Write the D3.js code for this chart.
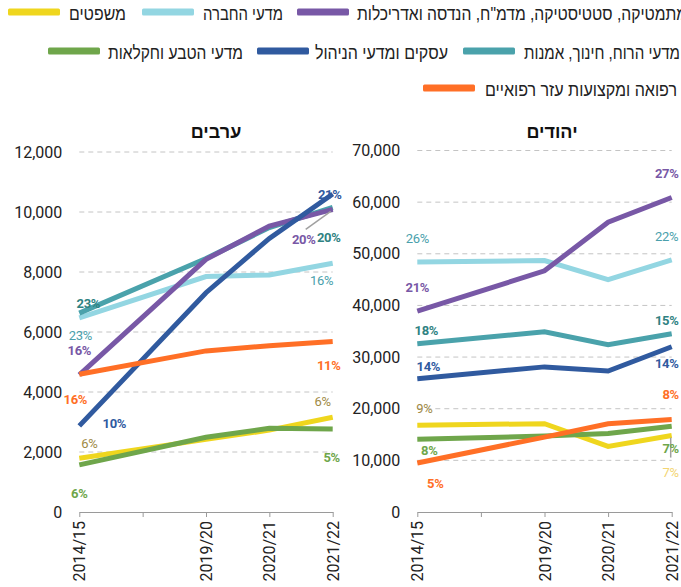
<!DOCTYPE html>
<html>
<head>
<meta charset="utf-8">
<script src="https://cdn.jsdelivr.net/npm/d3@7"></script>
<style>
  body { margin: 0; background: #fff; }
  svg { display: block; }
  .tick text { font-family: Roboto, "Liberation Sans", sans-serif; font-size: 16px; fill: #222; }
</style>
</head>
<body>
<div id="chart"></div>
<script>
var svgWidth = 681;
var svgHeight = 587;

// Categories on the x axis (the blank one is the unlabeled tick between 2014/15 and 2019/20).
var xCategories = ["2014/15", "", "2019/20", "2020/21", "2021/22"];
var years = ["2014/15", "2019/20", "2020/21", "2021/22"];

// Fields of study, in drawing order (later ones on top).
var fields = ["social", "humanities", "math", "business", "law", "nature", "medicine"];
var fieldNames = {
    social: "מדעי החברה",
    humanities: "מדעי הרוח, חינוך, אמנות",
    math: "מתמטיקה, סטטיסטיקה, מדמ\"ח, הנדסה ואדריכלות",
    business: "עסקים ומדעי הניהול",
    law: "משפטים",
    nature: "מדעי הטבע וחקלאות",
    medicine: "רפואה ומקצועות עזר רפואיים"
};

// Students — Arabs.
var arabSocial     = [6470, 7850, 7900, 8290];
var arabHumanities = [6630, 8450, 9480, 10150];
var arabMath       = [4570, 8420, 9530, 10090];
var arabBusiness   = [2870, 7310, 9120, 10600];
var arabLaw        = [1790, 2420, 2730, 3160];
var arabNature     = [1570, 2490, 2790, 2770];
var arabMedicine   = [4590, 5370, 5545, 5680];

// Students — Jews.
var jewSocial     = [48400, 48700, 45000, 48800];
var jewHumanities = [32600, 34900, 32400, 34500];
var jewMath       = [38900, 46700, 56100, 60900];
var jewBusiness   = [25800, 28100, 27300, 32000];
var jewLaw        = [16800, 17100, 12700, 14800];
var jewNature     = [14100, 14700, 15200, 16600];
var jewMedicine   = [9500, 14500, 17100, 17900];

// Share labels at first / last year.
var arabStartLabels = {social: "23%", humanities: "23%", math: "16%", business: "10%", law: "6%", nature: "6%", medicine: "16%"};
var arabEndLabels   = {social: "16%", humanities: "20%", math: "20%", business: "21%", law: "6%", nature: "5%", medicine: "11%"};
var jewStartLabels  = {social: "26%", humanities: "18%", math: "21%", business: "14%", law: "9%", nature: "8%", medicine: "5%"};
var jewEndLabels    = {social: "22%", humanities: "15%", math: "27%", business: "14%", law: "7%", nature: "7%", medicine: "8%"};

var arabTicks = [0, 2000, 4000, 6000, 8000, 10000, 12000];
var jewTicks = [0, 10000, 20000, 30000, 40000, 50000, 60000, 70000];

var colors = {
    social: "#93d6e2",
    humanities: "#4aa2ab",
    math: "#7858a6",
    business: "#305a9f",
    law: "#efd61e",
    nature: "#6fa64b",
    medicine: "#ff6f26"
};

// label styling per field: [color, bold]
var labelStyle = {
    social: ["#4a9fac", false],
    humanities: ["#2f8282", true],
    math: ["#7858a6", true],
    business: ["#305a9f", true],
    law: ["#a08a45", false],
    nature: ["#6fa64b", true],
    medicine: ["#ff6f26", true]
};

var svg = d3.select("#chart")
    .append("svg")
    .attr("width", svgWidth)
    .attr("height", svgHeight);

// ---------- Legend ----------
// rows of [field, swatch left x, text left x, text width]
var legendRows = [
    {y: 12, items: [["law", 8, 69, 57], ["social", 142, 203, 80], ["math", 297, 357, 330]]},
    {y: 51, items: [["nature", 48, 108, 135], ["business", 257, 315, 133], ["humanities", 463, 524, 156]]},
    {y: 88, items: [["medicine", 423, 485, 192]]}
];

legendRows.forEach(function(row) {
    row.items.forEach(function(it) {
        svg.append("rect")
            .attr("x", it[1])
            .attr("y", row.y - 3.5)
            .attr("width", 52)
            .attr("height", 7)
            .attr("rx", 1.5)
            .attr("fill", colors[it[0]]);
        svg.append("text")
            .attr("x", it[2] + it[3])
            .attr("y", row.y + 1)
            .attr("direction", "rtl")
            .attr("text-anchor", "start")
            .attr("dominant-baseline", "central")
            .attr("textLength", it[3])
            .attr("lengthAdjust", "spacingAndGlyphs")
            .style("font-family", "'Liberation Sans', 'DejaVu Sans', sans-serif")
            .style("font-size", "18.5px")
            .style("fill", "#222")
            .text(fieldNames[it[0]]);
    });
});

// ---------- Panels ----------
var arabPanel = {
    title: "ערבים",
    titleX: 216,
    x0: 79.3, x1: 332.7,
    yMax: 12000, yTop: 152,
    ticks: arabTicks,
    values: {social: arabSocial, humanities: arabHumanities, math: arabMath, business: arabBusiness,
             law: arabLaw, nature: arabNature, medicine: arabMedicine},
    startLabels: arabStartLabels,
    endLabels: arabEndLabels,
    // label offsets from the data point [dx, dy]
    startOffsets: {social: [1, 18], humanities: [9, -10], math: [0, -24], business: [35, -2],
                   law: [10, -15], nature: [0, 29], medicine: [-4, 25]},
    endOffsets: {social: [-11, 17], humanities: [-4, 30], math: [-29, 30], business: [-3, 0],
                 law: [-10, -16], nature: [-1, 29], medicine: [-4, 24]},
    leaders: [{field: "math", from: [-2, 2], to: [-27, 20]}]
};

var jewPanel = {
    title: "יהודים",
    titleX: 552,
    x0: 417.3, x1: 671.7,
    yMax: 70000, yTop: 150.5,
    ticks: jewTicks,
    values: {social: jewSocial, humanities: jewHumanities, math: jewMath, business: jewBusiness,
             law: jewLaw, nature: jewNature, medicine: jewMedicine},
    startLabels: jewStartLabels,
    endLabels: jewEndLabels,
    startOffsets: {social: [0, -24], humanities: [9, -13], math: [0, -24], business: [11, -12],
                   law: [7, -17], nature: [12, 11], medicine: [18, 21]},
    endOffsets: {social: [-5, -23], humanities: [-5, -13], math: [-5, -24], business: [-5, 17],
                 law: [-1, 37], nature: [-1, 22], medicine: [-1, -25]},
    endLabelColor: {law: "#f3d572"},
    leaders: [{field: "law", from: [-1, 2], to: [-1, 22]}]
};

function drawPanel(p) {
    var yBottom = 512;

    var xScale = d3.scalePoint()
        .domain(xCategories)
        .range([p.x0, p.x1]);

    var yScale = d3.scaleLinear()
        .domain([0, p.yMax])
        .range([yBottom, p.yTop]);

    var g = svg.append("g");

    // title
    g.append("text")
        .attr("x", p.titleX)
        .attr("y", 131)
        .attr("text-anchor", "middle")
        .attr("dominant-baseline", "central")
        .style("font-family", "Roboto, 'Liberation Sans', 'DejaVu Sans', sans-serif")
        .style("font-size", "18px")
        .style("font-weight", "bold")
        .style("fill", "#111")
        .text(p.title);

    // dashed grid
    g.selectAll(".grid")
        .data(p.ticks.filter(d => d > 0))
        .enter()
        .append("line")
        .attr("x1", p.x0)
        .attr("x2", p.x1)
        .attr("y1", d => yScale(d))
        .attr("y2", d => yScale(d))
        .attr("stroke", "#c4c4c4")
        .attr("stroke-width", 1)
        .attr("stroke-dasharray", "5,4");

    // y axis (labels only)
    var leftAxis = d3.axisLeft(yScale)
        .tickValues(p.ticks)
        .tickSize(0)
        .tickPadding(17)
        .tickFormat(d3.format(","));

    g.append("g")
        .attr("transform", `translate(${p.x0}, 0)`)
        .call(leftAxis)
        .call(a => a.select(".domain").remove());

    // x axis
    var bottomAxis = d3.axisBottom(xScale)
        .tickSize(5)
        .tickSizeOuter(0);

    var xAxis = g.append("g")
        .attr("transform", `translate(0, ${yBottom})`)
        .call(bottomAxis);

    xAxis.select(".domain").attr("stroke", "#9a9a9a");
    xAxis.selectAll(".tick line").attr("stroke", "#9a9a9a");
    xAxis.selectAll(".tick text")
        .attr("transform", "rotate(-90)")
        .attr("x", -9)
        .attr("y", 0)
        .attr("dy", "0.35em")
        .style("text-anchor", "end");

    // lines
    var line = d3.line()
        .x((d, i) => xScale(years[i]))
        .y(d => yScale(d));

    g.selectAll(".series")
        .data(fields)
        .enter()
        .append("path")
        .attr("d", f => line(p.values[f]))
        .attr("fill", "none")
        .attr("stroke", f => colors[f])
        .attr("stroke-width", 5);

    // leader lines
    p.leaders.forEach(function(l) {
        var v = p.values[l.field];
        var px = xScale(years[years.length - 1]);
        var py = yScale(v[v.length - 1]);
        g.append("line")
            .attr("x1", px + l.from[0])
            .attr("y1", py + l.from[1])
            .attr("x2", px + l.to[0])
            .attr("y2", py + l.to[1])
            .attr("stroke", "#a0a0a0")
            .attr("stroke-width", 1.5);
    });

    // share labels
    function addLabels(labels, offsets, idx, overrides) {
        fields.forEach(function(f) {
            var v = p.values[f];
            var px = xScale(years[idx]);
            var py = yScale(v[idx]);
            var st = labelStyle[f];
            var col = (overrides && overrides[f]) || st[0];
            g.append("text")
                .attr("x", px + offsets[f][0])
                .attr("y", py + offsets[f][1])
                .attr("text-anchor", "middle")
                .attr("dominant-baseline", "central")
                .style("font-family", "Roboto, 'Liberation Sans', sans-serif")
                .style("font-size", "13px")
                .style("font-weight", st[1] ? "bold" : "normal")
                .style("letter-spacing", "-0.3px")
                .style("fill", col)
                .text(labels[f]);
        });
    }

    addLabels(p.startLabels, p.startOffsets, 0, null);
    addLabels(p.endLabels, p.endOffsets, years.length - 1, p.endLabelColor);
}

drawPanel(arabPanel);
drawPanel(jewPanel);
</script>
</body>
</html>
